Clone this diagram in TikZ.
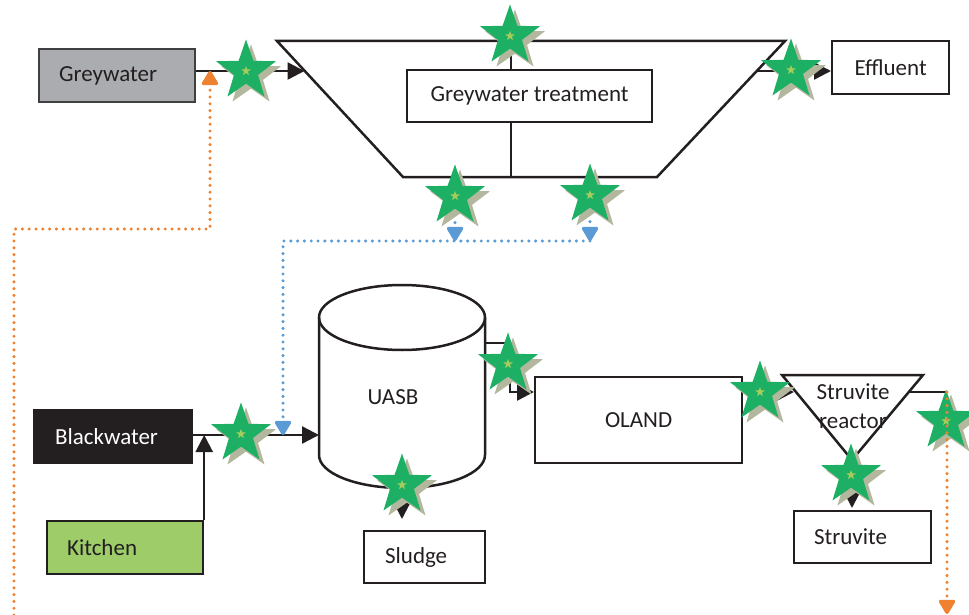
\documentclass[tikz,border=0pt]{standalone}
\usepackage{fontspec}
\setmainfont{Carlito}
\usetikzlibrary{arrows.meta,shapes.geometric}
\definecolor{txt}{HTML}{231F20}
\definecolor{greyfill}{HTML}{ABACB0}
\definecolor{greyedge}{HTML}{404040}
\definecolor{kitfill}{HTML}{9DCC69}
\definecolor{starg}{HTML}{1DB064}
\definecolor{starsh}{HTML}{B3B79D}
\definecolor{starc}{HTML}{A6CD5C}
\definecolor{bluedot}{HTML}{5B9BD5}
\definecolor{orngdot}{HTML}{EE8230}
\begin{document}
\begin{tikzpicture}[x=1pt,y=-1pt,
  every node/.style={font=\fontsize{23}{27}\selectfont, text=txt},
  box/.style={draw=txt, line width=2.2pt, inner ysep=0pt, minimum height=53pt},
  lbox/.style={box, anchor=north west, inner xsep=20pt, align=left},
  cbox/.style={box, anchor=north west, inner xsep=0pt, align=center},
  conn/.style={line width=2.5pt, draw=txt},
  arr/.style={conn, -{Triangle[length=17pt,width=17pt]}},
  blued/.style={draw=bluedot, line width=3.4pt, line cap=round, dash pattern=on 0pt off 6.8pt},
  oranged/.style={draw=orngdot, line width=3.4pt, line cap=round, dash pattern=on 0pt off 6.8pt},
  btip/.style={-{Triangle[length=16pt,width=18pt,round=false,fill=bluedot]}},
  otip/.style={-{Triangle[length=16pt,width=18pt,round=false,fill=orngdot]}},
  starbody/.style={star, star points=5, star point ratio=2.5, minimum size=63pt, inner sep=0pt, outer sep=0pt, draw=none},
  gstar/.pic={
    \node[starbody, fill=starsh] (-sh) at (5,5) {};
    \node[starbody, fill=starg] (-c) at (0,0) {};
    \node[star, star points=5, star point ratio=2.5, minimum size=10pt, inner sep=0pt, fill=starc] (-k) at (0,0) {};
  }
]
\useasboundingbox (0,0) rectangle (969,615);

% ---- boxes ----
\node[lbox, fill=greyfill, draw=greyedge, minimum width=156pt, text width=116pt] (grey) at (38,48) {Greywater};
\node[cbox, minimum width=117pt] (eff) at (831,40) {Effluent};
\node[cbox, minimum width=245pt, minimum height=52pt] (gwt) at (406,69) {Greywater treatment};
\node[lbox, fill=txt, minimum width=158pt, text width=116pt, inner xsep=21pt, text=white] (black) at (33,409) {Blackwater};
\node[lbox, fill=kitfill, minimum width=156pt, text width=116pt] (kit) at (46,520) {Kitchen};
\node[lbox, minimum width=121pt, text width=79pt, inner xsep=21pt, minimum height=52pt] (sludge) at (363,530) {Sludge};
\node[cbox, minimum width=207pt, minimum height=86pt] (oland) at (534,376) {OLAND};
\node[lbox, minimum width=137pt, text width=97pt, minimum height=52pt] (stru) at (793,510) {Struvite};

% ---- greywater treatment trapezoid ----
\coordinate (tl) at (277,41);
\coordinate (tr) at (785,41);
\coordinate (br) at (657,177);
\coordinate (bl) at (403,177);
\draw[conn, line join=miter] (tl) -- (tr) -- (br) -- (bl) -- cycle;
\coordinate (vt) at (511,41);
\coordinate (vb) at (511,177);
\draw[conn] (vt) -- (vt |- gwt.north);
\draw[conn] (vb) -- (vb |- gwt.south);

% ---- UASB cylinder ----
\draw[conn] (402,317.5) ellipse [x radius=83, y radius=32.5];
\draw[conn] (319,317.5) -- (319,455) arc[start angle=180, end angle=0, x radius=83, y radius=33] -- (485,317.5);
\node (uasb) at (393,397) {UASB};

% ---- struvite reactor ----
\coordinate (rtl) at (782,375);
\coordinate (rtr) at (923,375);
\coordinate (rv) at (852,460);
\draw[conn, line join=miter] (rtl) -- (rtr) -- (rv) -- cycle;
\node (rt1) at (853,392) {Struvite};
\node (rt2) at (853,421) {reactor};

% ---- connectors ----
\coordinate (gin) at (304.5,71);
\draw[arr] (grey.east |- gin) -- (gin);
\coordinate (gout) at (757,71);
\draw[arr] (gout) -- (eff.west |- gout);
\coordinate (uin) at (319,435);
\draw[arr] (black.east |- uin) -- (uin);
\draw[arr] (kit.north east) -- (kit.north east |- uin);
\coordinate (uout) at (485,343);
\coordinate (oin) at (534,392);
\draw[arr] (uout) -- ++(25,0) |- (oin);
\coordinate (rin) at (794,392);
\draw[arr] (oland.east |- rin) -- (rin);
\coordinate (rout) at (909,392);
\coordinate (orng) at (947,392);
\draw[conn] (rout) -- (orng);
\draw[arr, shorten >=2pt] (rv) -- (rv |- stru.north);
\coordinate (ub) at (402,488);
\draw[arr, shorten >=11pt] (ub) -- (ub |- sludge.north);

% ---- stars ----
\pic (s1) at (246,71) {gstar};
\pic (s2) at (510,36) {gstar};
\pic (s3) at (791,70) {gstar};
\pic (s4) at (455,196) {gstar};
\pic (s5) at (590,195) {gstar};
\pic (s6) at (241,434) {gstar};
\pic (s7) at (508,364) {gstar};
\pic (s8) at (402,485) {gstar};
\pic (s9) at (760,392) {gstar};
\pic (s10) at (851,475) {gstar};
\pic (s11) at (946,421) {gstar};

% ---- dotted lines ----
\coordinate (bb) at (283,241);
\draw[blued, btip, shorten <=14pt] (s4-c) -- (s4-c |- bb);
\draw[blued, btip, shorten <=14pt] (s5-c) -- (s5-c |- bb);
\draw[blued, btip] (s5-c |- bb) -- (bb) -- (bb |- uin);
\coordinate (o1) at (14,615);
\coordinate (o2) at (14,229);
\coordinate (o3) at (210,229);
\draw[oranged, otip] (o1) -- (o2) -- (o3) -- (o3 |- gin);
\coordinate (oe) at (947,614);
\draw[oranged, otip] (orng) -- (oe);
\end{tikzpicture}
\end{document}
